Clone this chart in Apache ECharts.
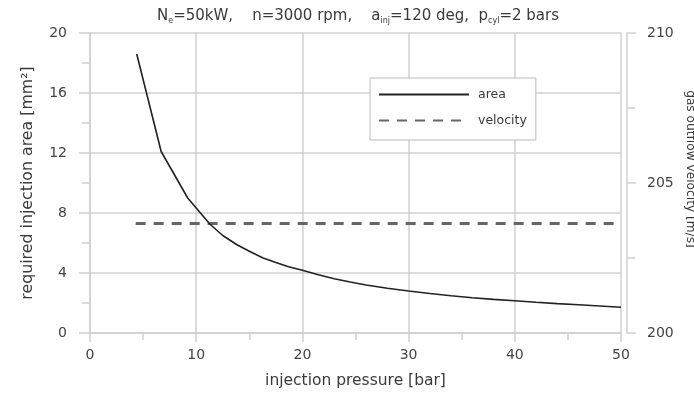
<!DOCTYPE html>
<html>
<head>
<meta charset="utf-8">
<script src="https://cdn.jsdelivr.net/npm/echarts@6/dist/echarts.min.js"></script>
<style>html,body{margin:0;padding:0;background:#fff}#c{width:694px;height:396px}</style>
</head>
<body>
<div id="c"></div>
<script>
const pressure = [4.4, 6.7, 9.2, 11.3, 12.5, 13.8, 15, 16.3, 17.5, 18.7, 20, 21.5, 23, 24.5, 26, 28, 30, 32, 34, 36, 38, 40, 42, 44, 46, 48, 50];
const area     = [18.6, 12.1, 9.0, 7.25, 6.5, 5.9, 5.45, 5.0, 4.7, 4.42, 4.18, 3.88, 3.62, 3.4, 3.2, 2.98, 2.8, 2.63, 2.48, 2.35, 2.24, 2.15, 2.05, 1.96, 1.88, 1.8, 1.72];
const velocityP = [4.3, 50];
const velocity  = [203.65, 203.65];
const xTicks = [0, 10, 20, 30, 40, 50];
const yLeftTicks = [0, 4, 8, 12, 16, 20];
const yRightTicks = [200, 205, 210];

const FONT = 'DejaVu Sans, Verdana, sans-serif';
const grey = '#d0d0d0';
const txt = '#3a3a3a';
const chart = echarts.init(document.getElementById('c'));
chart.setOption({
  animation: false,
  textStyle: { fontFamily: FONT },
  title: {
    left: 157, top: 7, padding: 0,
    text: '{n|N}{s|e}{n|=50kW,    n=3000 rpm,    a}{s|inj}{n|=120 deg,  p}{s|cyl}{n|=2 bars}',
    textStyle: {
      fontWeight: 'normal',
      rich: {
        n: { fontSize: 15, lineHeight: 18, color: txt, fontFamily: FONT, fontWeight: 'normal' },
        s: { fontSize: 8, lineHeight: 8, padding: [10, 0, 0, 0], color: txt, fontFamily: FONT, fontWeight: 'normal' }
      }
    }
  },
  legend: {
    left: 370, top: 78, orient: 'vertical',
    itemWidth: 90, itemHeight: 14, itemGap: 13,
    padding: [10, 9, 13, 8],
    backgroundColor: '#fff', borderColor: '#bbb', borderWidth: 1,
    itemStyle: { opacity: 0 },
    textStyle: { fontSize: 12.5, color: txt, fontFamily: FONT, padding: [0, 0, 0, 4] },
    data: ['area', 'velocity']
  },
  grid: { left: 90, right: 73, top: 33, bottom: 63, containLabel: false, outerBoundsMode: 'none' },
  xAxis: {
    type: 'value', min: xTicks[0], max: xTicks[xTicks.length - 1], interval: 10,
    offset: 3,
    name: 'injection pressure [bar]', nameLocation: 'middle', nameGap: 37,
    nameTextStyle: { fontSize: 15.5, color: txt, fontFamily: FONT },
    axisLine: { lineStyle: { color: grey, width: 1.5 } },
    axisTick: { length: 9, lineStyle: { color: grey, width: 1.5 } },
    minorTick: { show: true, splitNumber: 2, length: 7, lineStyle: { color: grey, width: 1.5 } },
    axisLabel: { margin: 12, fontSize: 14, color: '#444', fontFamily: FONT },
    splitLine: { show: true, lineStyle: { color: grey, width: 1.5 } }
  },
  yAxis: [
    {
      type: 'value', min: yLeftTicks[0], max: yLeftTicks[yLeftTicks.length - 1], interval: 4,
      position: 'left', offset: 3,
      name: 'required injection area [mm²]', nameLocation: 'middle', nameGap: 51, nameRotate: 90,
      nameTextStyle: { fontSize: 15.8, color: txt, fontFamily: FONT },
      axisLine: { show: true, lineStyle: { color: grey, width: 1.5 } },
      axisTick: { show: true, length: 11, lineStyle: { color: grey, width: 1.5 } },
      minorTick: { show: true, splitNumber: 2, length: 8, lineStyle: { color: grey, width: 1.5 } },
      axisLabel: { margin: 20, fontSize: 14, color: '#444', fontFamily: FONT },
      splitLine: { show: true, lineStyle: { color: grey, width: 1.5 } }
    },
    {
      type: 'value', min: yRightTicks[0], max: yRightTicks[yRightTicks.length - 1], interval: 5,
      position: 'right', offset: 6,
      name: 'gas outflow velocity [m/s]', nameLocation: 'middle', nameGap: 55, nameRotate: -90,
      nameTextStyle: { fontSize: 12.2, color: txt, fontFamily: FONT, padding: [0, 28, 0, 0] },
      axisLine: { show: true, lineStyle: { color: grey, width: 1.5 } },
      axisTick: { show: true, length: 9, lineStyle: { color: grey, width: 1.5 } },
      minorTick: { show: true, splitNumber: 2, length: 8, lineStyle: { color: grey, width: 1.5 } },
      axisLabel: { margin: 20, fontSize: 14, color: '#444', fontFamily: FONT },
      splitLine: { show: false }
    }
  ],
  series: [
    {
      name: 'area', type: 'line', yAxisIndex: 0, symbol: 'none',
      data: pressure.map((p, i) => [p, area[i]]),
      lineStyle: { color: '#222', width: 1.6 },
      itemStyle: { color: '#222' }, z: 3
    },
    {
      name: 'velocity', type: 'line', yAxisIndex: 1, symbol: 'none',
      data: velocityP.map((p, i) => [p, velocity[i]]),
      lineStyle: { color: '#666', width: 3, type: [10, 8] },
      itemStyle: { color: '#666' }, z: 2
    }
  ]
});
</script>
</body>
</html>
